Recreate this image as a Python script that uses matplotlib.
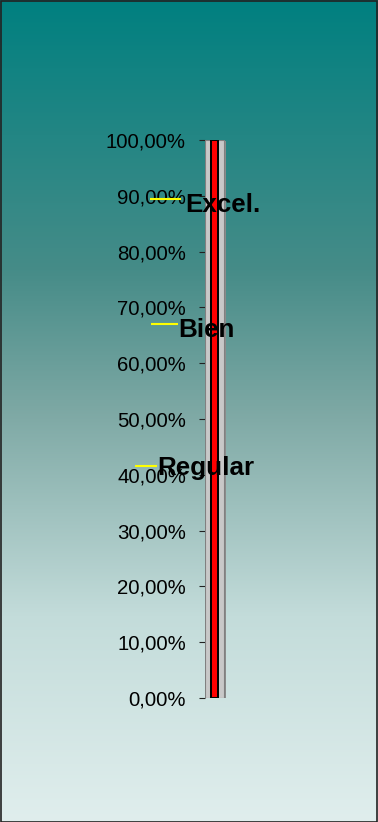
import numpy as np
import matplotlib.pyplot as plt
from matplotlib.patches import Rectangle

# thermometer reading and the grade marks along the scale
score = [100.0]
grade_names = ["Excel.", "Bien", "Regular"]
grade_values = [89.4, 67.0, 41.6]
tick_values = list(range(0, 101, 10))
tick_labels = [f"{v},00%" for v in tick_values]

# left/right ends (px, relative to the bar's left edge) of each grade dash
dash_spans = [(-55, -24), (-54, -27), (-70, -48)]
# label offsets (px) from the dash end: gap to the right, drop of the baseline
label_gaps = [4, 0, 0]
label_drops = [12.4, 12.4, 9.3]

W, H = 378, 822
fig = plt.figure(figsize=(W / 100, H / 100), dpi=100)

# teal-to-pale vertical gradient background (greyish through the middle)
bg = fig.add_axes([0, 0, 1, 1], zorder=0)
stops = np.array([0.0, 0.33, 0.5, 0.75, 1.0])
cols = np.array([[0, 128, 128], [70, 140, 136], [125, 168, 164],
                 [195, 220, 218], [224, 238, 237]]) / 255
t = np.linspace(0, 1, 400)
grad = np.stack([np.interp(t, stops, cols[:, k]) for k in range(3)], axis=1)
bg.imshow(grad[:, None, :], aspect="auto", extent=[0, 1, 0, 1])
bg.set_axis_off()
fig.patches.append(Rectangle((0.5 / W, 0.5 / H), 1 - 1.5 / W, 1 - 1.5 / H,
                             transform=fig.transFigure, fill=False,
                             edgecolor="#222222", linewidth=1.2, zorder=10))

# plot area: 1 data unit = 1 px horizontally, y from 0 to 100 %
x0, y_top, y_bot, aw = 205, 140, 698, 25
ax = fig.add_axes([x0 / W, (H - y_bot) / H, aw / W, (y_bot - y_top) / H], zorder=1)
ax.set_xlim(0, aw)
ax.set_ylim(0, 100)
ax.patch.set_visible(False)
for s in ax.spines.values():
    s.set_visible(False)

# glass tube with a small shadow, then the red column
ax.bar([2 + 19 / 2], [100], width=19, bottom=-0.2, color="#8c8c8c", zorder=1)
ax.bar([19 / 2], [100], width=19, color="#c8c8c8", edgecolor="#808080",
       linewidth=0.8, zorder=2)
ax.bar([9.5], score, width=7, color="#ff0000", edgecolor="black",
       linewidth=1.45, zorder=3)

# grade dashes with their labels
for name, val, (a, b), gap, drop in zip(grade_names, grade_values, dash_spans,
                                        label_gaps, label_drops):
    ax.plot([a, b], [val, val], color="#ffff00", linewidth=1.5,
            clip_on=False, zorder=4, solid_capstyle="butt")
    ax.annotate(name, xy=(b, val), xytext=(gap, -drop), textcoords="offset pixels",
                fontsize=18.7, fontweight="bold", family="Liberation Sans",
                color="black", ha="left", va="baseline",
                annotation_clip=False, zorder=5)

ax.set_yticks(tick_values)
ax.set_yticklabels(tick_labels, family="Liberation Sans", fontsize=14.7)
ax.tick_params(axis="y", direction="out", length=4.3, width=0.8,
               color="#222222", pad=9.4)
ax.set_xticks([])

fig.savefig("out.png", dpi=100)
